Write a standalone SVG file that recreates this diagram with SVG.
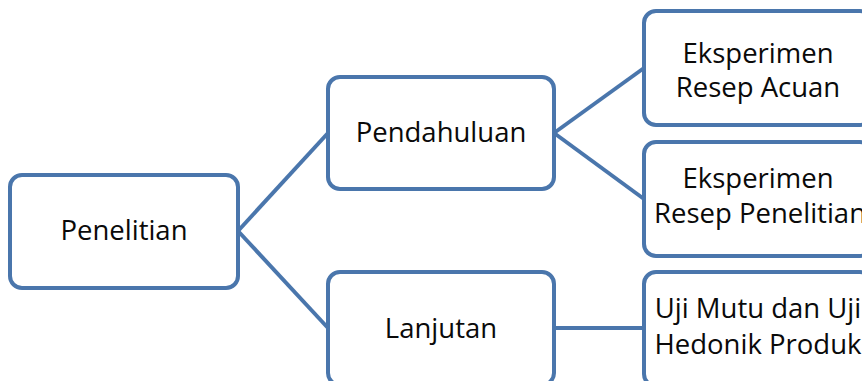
<svg xmlns="http://www.w3.org/2000/svg" width="862" height="381" viewBox="0 0 862 381">
<style>
.box{fill:#fff;stroke:#4A76AC;stroke-width:4}
.con{fill:none;stroke:#4A76AC;stroke-width:4}
text{font-family:"Open Sans","Noto Sans",sans-serif;font-size:27.5px;fill:#0a0a0a;text-anchor:middle}
</style>
<rect width="862" height="381" fill="#fff"/>
<g id="connectors">
<line class="con" x1="238" y1="231" x2="328" y2="133"/>
<line class="con" x1="238" y1="231" x2="328" y2="328"/>
<line class="con" x1="554" y1="133" x2="644" y2="68"/>
<line class="con" x1="554" y1="133" x2="644" y2="199"/>
<line class="con" x1="554" y1="328" x2="644" y2="328"/>
</g>
<g id="penelitian">
<rect class="box" x="10" y="175" width="228" height="113" rx="12"/>
<text x="124" y="240">Penelitian</text>
</g>
<g id="pendahuluan">
<rect class="box" x="328" y="77" width="226" height="112" rx="12"/>
<text x="441" y="142">Pendahuluan</text>
</g>
<g id="lanjutan">
<rect class="box" x="328" y="272" width="226" height="113" rx="12"/>
<text x="441" y="338">Lanjutan</text>
</g>
<g id="resep-acuan">
<rect class="box" x="644" y="11" width="228" height="114" rx="12"/>
<text x="758" y="63">Eksperimen</text>
<text x="758" y="97">Resep Acuan</text>
</g>
<g id="resep-penelitian">
<rect class="box" x="644" y="142" width="228" height="114" rx="12"/>
<text x="758" y="188">Eksperimen</text>
<text x="760" y="223">Resep Penelitian</text>
</g>
<g id="uji-mutu">
<rect class="box" x="644" y="272" width="228" height="114" rx="12"/>
<text x="758" y="318">Uji Mutu dan Uji</text>
<text x="758" y="354">Hedonik Produk</text>
</g>
</svg>
